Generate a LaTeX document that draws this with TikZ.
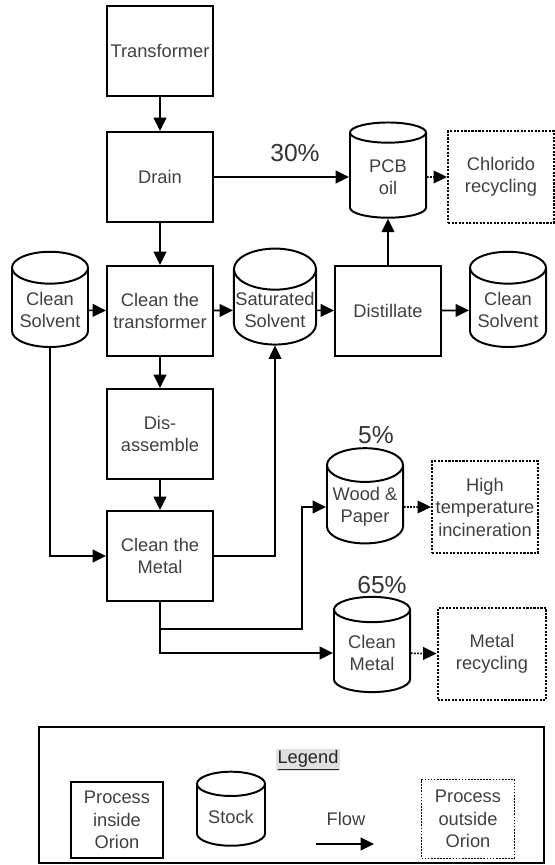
\documentclass[tikz,border=0pt]{standalone}
\usepackage{fontspec}
\setmainfont{Liberation Sans}
\usetikzlibrary{arrows.meta, shapes.geometric, positioning}

\begin{document}
\begin{tikzpicture}[
    x=0.025cm, y=-0.025cm,
    font=\fontsize{13}{16}\selectfont,
    procbox/.style={draw, line width=1.4pt, minimum width=2.65cm, minimum height=2.25cm,
      inner sep=1pt, align=center, text=black!75},
    stock/.style={draw, line width=1.4pt, cylinder, shape border rotate=90, aspect=0.5,
      minimum width=1.9cm, minimum height=2.38cm, inner sep=1pt, align=center, text=black!75},
    outbox/.style={draw, densely dotted, line width=1.5pt, minimum width=2.65cm, minimum height=2.28cm,
      inner sep=1pt, align=center, text=black!75},
    flow/.style={line width=1.2pt, -{Triangle[length=9.5pt, width=9pt]}},
    dflow/.style={flow, densely dotted},
    pct/.style={font=\fontsize{17.5}{20}\selectfont, text=black!80},
  ]
    \useasboundingbox (0,0) rectangle (554,865);
    \node[procbox] (trafo) at (160,51) {Transformer};
    \node[procbox] (drain) at (160,177) {Drain};
    \node[procbox] (cleantr) at (160,311) {Clean the\\transformer};
    \node[procbox] (disasm) at (160,434) {Dis-\\assemble};
    \node[procbox] (cleanmt) at (160,556) {Clean the\\Metal};
    \node[procbox] (distil) at (388,311) {Distillate};
    \node[stock] (solvin) at (50,310) {Clean\\Solvent};
    \node[stock] (satsolv) at (275,310) {Saturated\\Solvent};
    \node[stock] (solvout) at (508,310) {Clean\\Solvent};
    \node[stock] (pcboil) at (388,177) {PCB\\oil};
    \node[stock] (wood) at (365,507) {Wood \&\\Paper};
    \node[stock] (metal) at (372,653) {Clean\\Metal};
    \node[outbox] (chlor) at (501,177) {Chlorido\\recycling};
    \node[outbox] (burn) at (485,507) {High\\temperature\\incineration};
    \node[outbox, minimum width=2.72cm] (metrec) at (492,654) {Metal\\recycling};
    \node[pct] at (295,153) {30\%};
    \node[pct] at (376,435) {5\%};
    \node[pct] at (382,585) {65\%};
    \coordinate (split) at (302,629);
    \draw[flow] (trafo) -- (drain);
    \draw[flow] (drain) -- (cleantr);
    \draw[flow] (drain) -- (pcboil);
    \draw[flow] (solvin) -- (cleantr);
    \draw[flow] (cleantr) -- (satsolv);
    \draw[flow] (satsolv) -- (distil);
    \draw[flow] (distil) -- (solvout);
    \draw[flow] (distil) -- (pcboil);
    \draw[flow] (cleantr) -- (disasm);
    \draw[flow] (disasm) -- (cleanmt);
    \draw[flow] (solvin.south) |- (cleanmt.west);
    \draw[flow] (cleanmt.east) -| (satsolv.south);
    \draw[flow] (cleanmt.south) |- (metal.west);
    \draw[flow] (cleanmt.south) |- (split) |- (wood.west);
    \draw[dflow] (pcboil) -- (chlor);
    \draw[dflow] (wood) -- (burn);
    \draw[dflow] (metal) -- (metrec);
    \node[draw, line width=1.2pt, minimum width=12.62cm, minimum height=3.4cm] (legend) at (291.5,795) {};
    \node[fill=black!12, inner sep=1pt, text=black!85] (legtitle) at (308,760) {\underline{Legend}};
    \node[procbox, line width=0.8pt, minimum width=2.3cm, minimum height=1.9cm] (leginside) at (117,820) {Process\\inside\\Orion};
    \node[stock, minimum width=1.7cm, minimum height=1.85cm] (legstock) at (231,817) {Stock};
    \node[text=black!75] (legflow) at (346,819) {Flow};
    \coordinate (flowa) at (316,844);
    \coordinate (flowb) at (374,844);
    \draw[flow] (flowa) -- (flowb);
    \node[outbox, line width=1.2pt, minimum width=2.32cm, minimum height=1.97cm] (legoutside) at (468,819) {Process\\outside\\Orion};
  \end{tikzpicture}
\end{document}
